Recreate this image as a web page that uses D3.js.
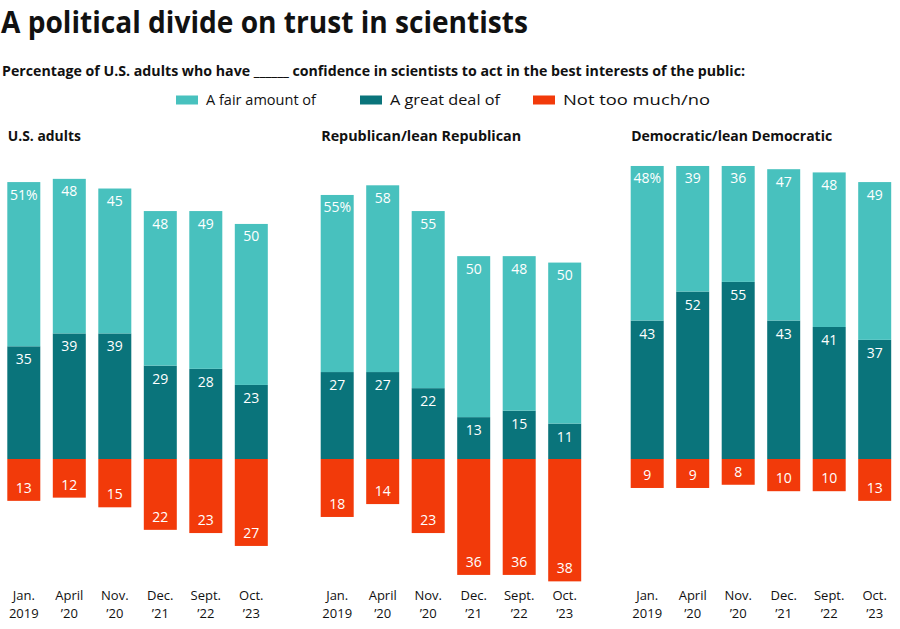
<!DOCTYPE html>
<html><head><meta charset="utf-8">
<script src="https://cdn.jsdelivr.net/npm/d3@7"></script>
<style>body{margin:0;background:#fff}svg{display:block}text{font-family:"Open Sans","Noto Sans",sans-serif}</style>
</head><body>
<script>
const categories = ["Jan.|2019","April|\u201920","Nov.|\u201920","Dec.|\u201921","Sept.|\u201922","Oct.|\u201923"];
const panels = ["U.S. adults","Republican/lean Republican","Democratic/lean Democratic"];
const fairAmount = [[51,48,45,48,49,50],[55,58,55,50,48,50],[48,39,36,47,48,49]];
const greatDeal  = [[35,39,39,29,28,23],[27,27,22,13,15,11],[43,52,55,43,41,37]];
const notTooMuch = [[13,12,15,22,23,27],[18,14,23,36,36,38],[9,9,8,10,10,13]];
const legendLabels = ["A fair amount of","A great deal of","Not too much/no"];
const colors = ["#48c1be","#0a747b","#f23a0a"];

const W=900,H=629;
const svg=d3.select("body").append("svg").attr("width",W).attr("height",H);

svg.append("text").attr("x",1).attr("y",33).attr("font-size",30).attr("font-weight",700)
  .attr("fill","#111").attr("textLength",527).attr("lengthAdjust","spacingAndGlyphs")
  .text("A political divide on trust in scientists");

svg.append("text").attr("x",2).attr("y",76).attr("font-size",15).attr("font-weight",700)
  .attr("fill","#111").attr("textLength",743).attr("lengthAdjust","spacingAndGlyphs")
  .text("Percentage of U.S. adults who have ______ confidence in scientists to act in the best interests of the public:");

const legX=[176,360,533];
const legW=[110,110,147];
legendLabels.forEach((l,i)=>{
  svg.append("rect").attr("x",legX[i]).attr("y",95.5).attr("width",22).attr("height",9).attr("fill",colors[i]);
  svg.append("text").attr("x",legX[i]+30).attr("y",105).attr("font-size",15).attr("fill","#111")
    .attr("textLength",legW[i]).attr("lengthAdjust","spacingAndGlyphs").text(l);
});

const panelX=[7.3,320.7,630.7];
const titleW=[73,200,201];
const step=45.5, bw=33;
const baseY=459, ppu=3.22;
const y=d3.scaleLinear().domain([-40,100]).range([baseY+40*ppu, baseY-100*ppu]);

panels.forEach((p,pi)=>{
  const x0=panelX[pi];
  const x=d3.scaleBand().domain(categories).range([x0,x0+5*step+bw]).paddingInner((step-bw)/step).paddingOuter(0);
  svg.append("text").attr("x",x0+0.5).attr("y",141).attr("font-size",15).attr("font-weight",700)
    .attr("fill","#111").attr("textLength",titleW[pi]).attr("lengthAdjust","spacingAndGlyphs").text(p);
  const g=svg.append("g");
  categories.forEach((c,ci)=>{
    const gd=greatDeal[pi][ci], fa=fairAmount[pi][ci], nt=notTooMuch[pi][ci];
    const bx=x(c), cx=bx+x.bandwidth()/2;
    g.append("rect").attr("x",bx).attr("width",x.bandwidth()).attr("y",y(gd)).attr("height",y(0)-y(gd)).attr("fill",colors[1]);
    g.append("rect").attr("x",bx).attr("width",x.bandwidth()).attr("y",y(gd+fa)).attr("height",y(gd)-y(gd+fa)).attr("fill",colors[0]);
    g.append("rect").attr("x",bx).attr("width",x.bandwidth()).attr("y",y(0)).attr("height",y(-nt)-y(0)).attr("fill",colors[2]);
    const lab=(v,yy)=>g.append("text").attr("x",cx).attr("y",yy).attr("text-anchor","middle")
      .attr("font-size",14).attr("fill","#fff").text(v);
    lab(fa+(ci===0?"%":""), y(gd+fa)+17.5);
    lab(gd, y(gd)+18);
    lab(nt, y(-nt)-8);
    const parts=c.split("|");
    const t=g.append("text").attr("x",cx).attr("y",600).attr("text-anchor","middle").attr("font-size",13).attr("fill","#111");
    t.append("tspan").attr("x",cx).attr("y",600).text(parts[0]);
    t.append("tspan").attr("x",cx).attr("y",618).text(parts[1]);
  });
});
</script>
</body></html>
